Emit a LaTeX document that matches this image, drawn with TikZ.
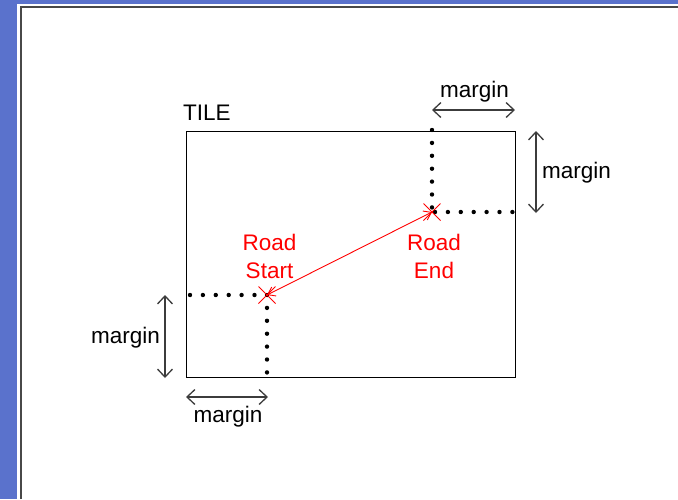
\documentclass[tikz,border=0pt]{standalone}
\usepackage{fontspec}
\setmainfont{Liberation Sans}
\usetikzlibrary{arrows.meta}
\definecolor{slideblue}{RGB}{90,114,204}
\definecolor{framegray}{RGB}{72,72,72}
\definecolor{dimgray}{RGB}{60,60,60}
\begin{document}
\begin{tikzpicture}[x=1pt,y=-1pt,
  lbl/.style={font=\fontsize{22.5}{28}\selectfont, inner sep=0pt, anchor=base},
  redlbl/.style={lbl, text=red},
  dimline/.style={draw=dimgray, line width=1.3pt,
    {Straight Barb[length=8pt,width=15pt]}-{Straight Barb[length=8pt,width=15pt]}},
  dots/.style={line width=4.4pt, line cap=round, dash pattern=on 0pt off 12.9pt},
  road/.style={draw=red, line width=0.9pt,
    {Straight Barb[length=7pt,width=10pt]}-{Straight Barb[length=7pt,width=10pt]}},
  crossmark/.style={draw=red, line width=0.9pt}]
\useasboundingbox (0,0) rectangle (678,499);

% slide frame
\fill[slideblue] (0,0) rectangle (17,499);
\fill[slideblue] (17,0) rectangle (678,4);
\draw[framegray, line width=2pt] (21,499) -- (21,7) -- (678,7);

% tile outline
\coordinate (tl) at (186,131);
\coordinate (br) at (515,377);
\draw[line width=1pt] (tl) rectangle (br);
\node[lbl, anchor=base west] (tile) at (183,120) {TILE};

% road end points
\coordinate (rs) at (267,295);
\coordinate (re) at (432,212);

% dotted margin guides
\coordinate (reN) at (432,130);
\coordinate (reE0) at (435,212);
\coordinate (reE) at (515,212);
\coordinate (rsW) at (190,295);
\coordinate (rsS) at (267,377);
\draw[dots] (reN) -- (re);
\draw[dots] (reE0) -- (reE);
\draw[dots] (rsW) -- (rs);
\draw[dots] (rs) -- (rsS);

% road vector and end marks
\draw[road] (rs) -- (re);
\draw[crossmark] (rs) +(-8.5,-8.5) -- +(8.5,8.5) (rs) +(-8.5,8.5) -- +(8.5,-8.5);
\draw[crossmark] (re) +(-8.5,-8.5) -- +(8.5,8.5) (re) +(-8.5,8.5) -- +(8.5,-8.5);
\node[redlbl] (rsA) at (269.5,250) {Road};
\node[redlbl] (rsB) at (269.5,278) {Start};
\node[redlbl] (reA) at (434,250) {Road};
\node[redlbl] (reB) at (434,278) {End};

% margin dimensions
\coordinate (t1) at (432,110); \coordinate (t2) at (515,110);
\draw[dimline] (t1) -- (t2);
\node[lbl] (mt) at (474.5,97) {margin};

\coordinate (r1) at (536,131); \coordinate (r2) at (536,213);
\draw[dimline] (r1) -- (r2);
\node[lbl, anchor=base west] (mr) at (542,178) {margin};

\coordinate (l1) at (165,295); \coordinate (l2) at (165,378);
\draw[dimline] (l1) -- (l2);
\node[lbl, anchor=base east] (ml) at (160,343) {margin};

\coordinate (b1) at (186,397); \coordinate (b2) at (268,397);
\draw[dimline] (b1) -- (b2);
\node[lbl] (mb) at (228,422) {margin};
\end{tikzpicture}
\end{document}
